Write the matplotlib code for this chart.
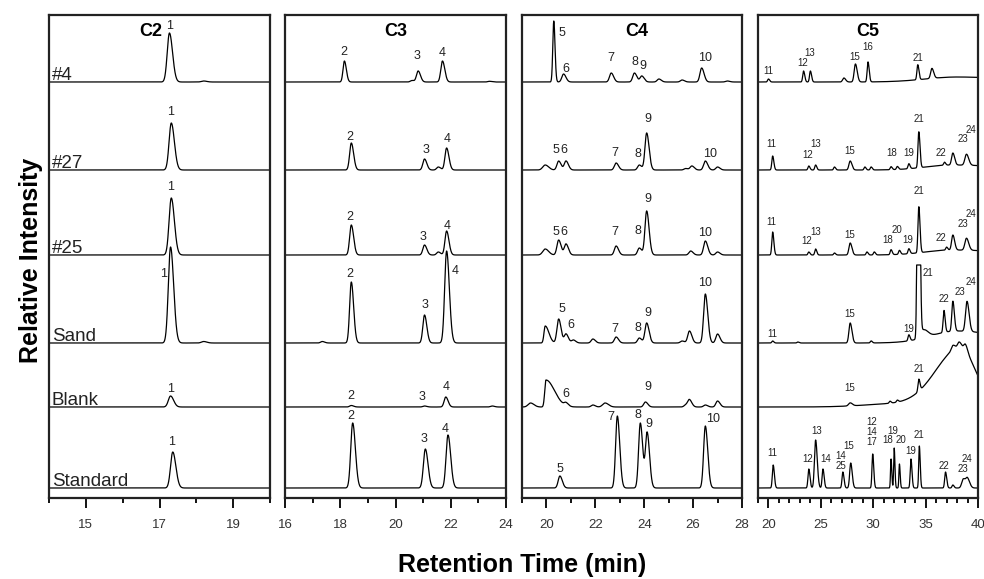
import numpy as np
import matplotlib.pyplot as plt

plt.rcParams['font.family'] = ['Liberation Sans', 'DejaVu Sans']

# samples stacked top to bottom, baseline offsets in plot units
samples = ['#4', '#27', '#25', 'Sand', 'Blank', 'Standard']
offsets = [416, 328, 243, 155, 91, 10]

# peaks: (retention time, height[, sigma_left[, sigma_right]])
c2_peaks = {
    '#4': [(17.27, 49), (18.2, 1)],
    '#27': [(17.32, 47)],
    '#25': [(17.32, 57)],
    'Sand': [(17.3, 96), (18.2, 1.5)],
    'Blank': [(17.3, 11)],
    'Standard': [(17.36, 36)],
}
c3_peaks = {
    '#4': [(18.15, 21, 0.05), (20.6, 1.5), (20.82, 11), (21.7, 21), (23.4, 0.7)],
    '#27': [(18.4, 27), (21.05, 11), (21.55, 3), (21.85, 22)],
    '#25': [(18.4, 30), (21.05, 10), (21.55, 3), (21.85, 24)],
    'Sand': [(17.35, 1.5), (18.4, 61), (21.05, 28), (21.85, 92, 0.07)],
    'Blank': [(18.4, 1.5), (21.05, 1), (21.82, 10), (23.5, 1)],
    'Standard': [(18.45, 65, 0.07), (21.08, 39, 0.07), (21.9, 53, 0.07)],
}
c4_peaks = {
    '#4': [(20.3, 61, 0.04, 0.05), (20.7, 8), (22.65, 9), (23.6, 9), (23.9, 6),
           (24.6, 3), (25.55, 2), (26.35, 14), (27.4, 1)],
    '#27': [(19.95, 5, 0.1), (20.5, 9), (20.8, 9), (22.85, 7), (23.8, 5), (24.1, 37),
            (25.7, 1.5), (25.95, 4), (26.5, 9), (27.0, 3)],
    '#25': [(19.95, 6, 0.1), (20.5, 15), (20.8, 11), (22.85, 9), (23.8, 7), (24.1, 44),
            (25.9, 4), (26.5, 14), (27.0, 3)],
    'Sand': [(19.95, 17, 0.05, 0.15), (20.5, 24), (20.8, 9), (21.1, 3), (21.9, 4),
             (22.85, 6), (23.8, 5), (24.1, 20), (25.55, 2), (25.85, 12), (26.5, 49),
             (27.0, 9)],
    'Blank': [(19.35, 4, 0.1), (19.98, 27, 0.05, 0.35), (20.8, 3), (21.9, 2),
              (22.4, 4, 0.1), (24.05, 5), (25.7, 2), (25.85, 7), (26.5, 2), (27.0, 6)],
    'Standard': [(20.55, 12), (22.9, 72), (23.84, 65), (24.12, 55), (26.5, 62)],
}
c5_peaks = {
    '#4': [(20.0, 3), (23.35, 11), (24.0, 11), (27.2, 4, 0.12), (28.3, 18, 0.12),
           (29.5, 20), (34.25, 15), (35.6, 10, 0.12), (38.0, 5, 3.0, 5.0)],
    '#27': [(20.4, 14), (23.85, 4), (24.5, 5), (26.3, 3), (27.8, 9, 0.12), (29.2, 3),
            (29.8, 3), (31.7, 3), (32.3, 3), (33.4, 5), (34.35, 36), (36.8, 3),
            (37.6, 12, 0.12), (38.9, 11, 0.15), (37.5, 5, 2.5, 5.0)],
    '#25': [(20.4, 23), (23.85, 3), (24.5, 6), (26.3, 2), (27.8, 12, 0.12), (29.4, 3),
            (30.1, 3), (31.7, 5), (32.5, 4), (33.4, 5), (34.35, 46), (37.0, 3),
            (37.6, 15, 0.12), (38.9, 12, 0.15), (37.5, 5, 2.5, 5.0)],
    'Sand': [(20.4, 2), (22.8, 1), (27.8, 20, 0.12), (29.8, 2), (33.4, 6),
             (34.3, 400, 0.09), (34.8, 8, 0.3), (36.75, 22), (37.6, 30, 0.1),
             (38.95, 30, 0.14), (38.0, 12, 2.5, 4.0)],
    'Blank': [(27.8, 3, 0.15), (31.6, 2), (32.3, 2), (32.0, 3, 3.0), (34.35, 12),
              (38.3, 58, 2.3, 1.5), (37.6, 5, 0.15), (38.2, 6, 0.15), (38.8, 7, 0.15)],
    'Standard': [(20.45, 23), (23.85, 19), (24.5, 48, 0.11), (25.2, 19), (27.1, 16),
                 (27.85, 25, 0.1), (29.95, 34, 0.07), (31.7, 29, 0.05), (32.0, 40, 0.05),
                 (32.5, 24, 0.05), (33.6, 29, 0.07), (34.4, 42, 0.06), (36.9, 16),
                 (37.6, 3), (38.6, 9, 0.15), (39.0, 9, 0.15)],
}

# peak labels: (text, retention time, height above baseline)
c2_labels = {
    '#4': [('1', 17.27, 56)],
    '#27': [('1', 17.3, 58)],
    '#25': [('1', 17.3, 68)],
    'Sand': [('1', 17.12, 69)],
    'Blank': [('1', 17.3, 18)],
    'Standard': [('1', 17.33, 46)],
}
c3_labels = {
    '#4': [('2', 18.14, 30), ('3', 20.78, 26), ('4', 21.7, 29)],
    '#27': [('2', 18.36, 33), ('3', 21.1, 20), ('4', 21.86, 31)],
    '#25': [('2', 18.36, 38), ('3', 21.0, 18), ('4', 21.86, 29)],
    'Sand': [('2', 18.36, 69), ('3', 21.07, 38), ('4', 22.15, 72)],
    'Blank': [('2', 18.4, 11), ('3', 20.97, 10), ('4', 21.83, 20)],
    'Standard': [('2', 18.4, 72), ('3', 21.03, 49), ('4', 21.8, 59)],
}
c4_labels = {
    '#4': [('5', 20.65, 49), ('6', 20.78, 13), ('7', 22.65, 24), ('8', 23.6, 20),
           ('9', 23.96, 16), ('10', 26.5, 24)],
    '#27': [('5', 20.4, 20), ('6', 20.73, 20), ('7', 22.78, 17), ('8', 23.76, 16),
            ('9', 24.16, 51), ('10', 26.7, 16)],
    '#25': [('5', 20.4, 23), ('6', 20.73, 23), ('7', 22.78, 23), ('8', 23.76, 24),
            ('9', 24.16, 56), ('10', 26.5, 22)],
    'Sand': [('5', 20.65, 34), ('6', 21.0, 18), ('7', 22.78, 14), ('8', 23.76, 15),
             ('9', 24.16, 30), ('10', 26.5, 60)],
    'Blank': [('6', 20.8, 13), ('9', 24.16, 20)],
    'Standard': [('5', 20.57, 19), ('7', 22.65, 71), ('8', 23.76, 73), ('9', 24.2, 64),
                 ('10', 26.8, 69)],
}
c5_labels = {
    '#4': [('11', 20.0, 11), ('12', 23.25, 19), ('13', 23.9, 29), ('15', 28.2, 25),
           ('16', 29.45, 35), ('21', 34.25, 24)],
    '#27': [('11', 20.3, 26), ('12', 23.7, 15), ('13', 24.5, 26), ('15', 27.75, 19),
            ('18', 31.8, 17), ('19', 33.4, 17), ('21', 34.35, 51), ('22', 36.45, 17),
            ('23', 38.55, 31), ('24', 39.3, 40)],
    '#25': [('11', 20.3, 33), ('12', 23.65, 14), ('13', 24.5, 23), ('15', 27.75, 20),
            ('18', 31.4, 15), ('20', 32.25, 25), ('19', 33.3, 15), ('21', 34.35, 64),
            ('22', 36.45, 17), ('23', 38.55, 31), ('24', 39.3, 41)],
    'Sand': [('11', 20.4, 9), ('15', 27.75, 29), ('19', 33.4, 14), ('21', 35.2, 70),
             ('22', 36.75, 44), ('23', 38.3, 51), ('24', 39.35, 61)],
    'Blank': [('15', 27.75, 19), ('21', 34.35, 38)],
    'Standard': [('11', 20.4, 35), ('12', 23.7, 29), ('13', 24.6, 57), ('14', 25.45, 29),
                 ('14', 26.9, 32), ('25', 26.9, 22), ('15', 27.65, 42), ('12', 29.85, 66),
                 ('14', 29.85, 56), ('17', 29.85, 46), ('19', 31.9, 57), ('18', 31.4, 48),
                 ('20', 32.6, 48), ('19', 33.6, 37), ('21', 34.35, 53), ('22', 36.75, 22),
                 ('23', 38.55, 19), ('24', 38.95, 29)],
}

panel_titles = ['C2', 'C3', 'C4', 'C5']
title_x = [16.77, 20.0, 23.7, 29.5]
xlims = [(14, 20), (16, 24), (19, 28), (19, 40)]
major_ticks = [[15, 17, 19], [16, 18, 20, 22, 24], [20, 22, 24, 26, 28],
               [20, 25, 30, 35, 40]]
minor_ticks = [[14, 16, 18, 20], [17, 19, 21, 23], [19, 21, 23, 25, 27],
               list(range(19, 41))]
sigmas = [0.06, 0.06, 0.07, 0.08]
label_size = [9, 9, 9, 7]
clip_top = {('C5', 'Sand'): 78}

all_peaks = [c2_peaks, c3_peaks, c4_peaks, c5_peaks]
all_labels = [c2_labels, c3_labels, c4_labels, c5_labels]


def chrom(x, peaks, sig):
    y = np.zeros_like(x)
    for p in peaks:
        rt, h = p[0], p[1]
        sl = p[2] if len(p) > 2 else sig
        sr = p[3] if len(p) > 3 else sl * 1.4
        s = np.where(x < rt, sl, sr)
        y += h * np.exp(-0.5 * ((x - rt) / s) ** 2)
    return y


fig = plt.figure(figsize=(9.84, 5.79), dpi=100)
lefts = [49, 285, 522, 758]
rights = [270, 506, 742, 978]
top_px, bot_px = 15, 498

for i in range(4):
    ax = fig.add_axes([lefts[i] / 984, 1 - bot_px / 579,
                       (rights[i] - lefts[i]) / 984, (bot_px - top_px) / 579])
    x = np.linspace(xlims[i][0], xlims[i][1], 4000)
    for name, off in zip(samples, offsets):
        y = chrom(x, all_peaks[i][name], sigmas[i])
        key = (panel_titles[i], name)
        if key in clip_top:
            y = np.minimum(y, clip_top[key])
        ax.plot(x, y + off, color='black', lw=0.9)
        for txt, t, dy in all_labels[i][name]:
            ax.text(t, off + dy, txt, ha='center', va='center',
                    fontsize=label_size[i], color='#222222')
        if i == 0:
            ax.text(14.08, off + 2, name, ha='left', va='baseline',
                    fontsize=13.5, color='#222222')
    ax.text(title_x[i], 466, panel_titles[i], ha='center', va='center',
            fontsize=13, fontweight='bold')
    ax.set_xlim(*xlims[i])
    ax.set_ylim(0, bot_px - top_px)
    ax.set_yticks([])
    ax.set_xticks(major_ticks[i])
    ax.set_xticks(minor_ticks[i], minor=True)
    ax.tick_params(axis='x', which='major', direction='out', length=7, width=1.3,
                   pad=8, labelsize=9.5, labelcolor='#333333')
    ax.tick_params(axis='x', which='minor', direction='out', length=3.5, width=1.3)
    for sp in ax.spines.values():
        sp.set_linewidth(1.6)
        sp.set_color('#222222')

fig.text(0.031, 0.551, 'Relative Intensity', rotation=90, ha='center', va='center',
         fontsize=18, fontweight='bold')
fig.text(0.531, 0.024, 'Retention Time (min)', ha='center', va='center',
         fontsize=18, fontweight='bold')

fig.savefig('out.png', dpi=100)
